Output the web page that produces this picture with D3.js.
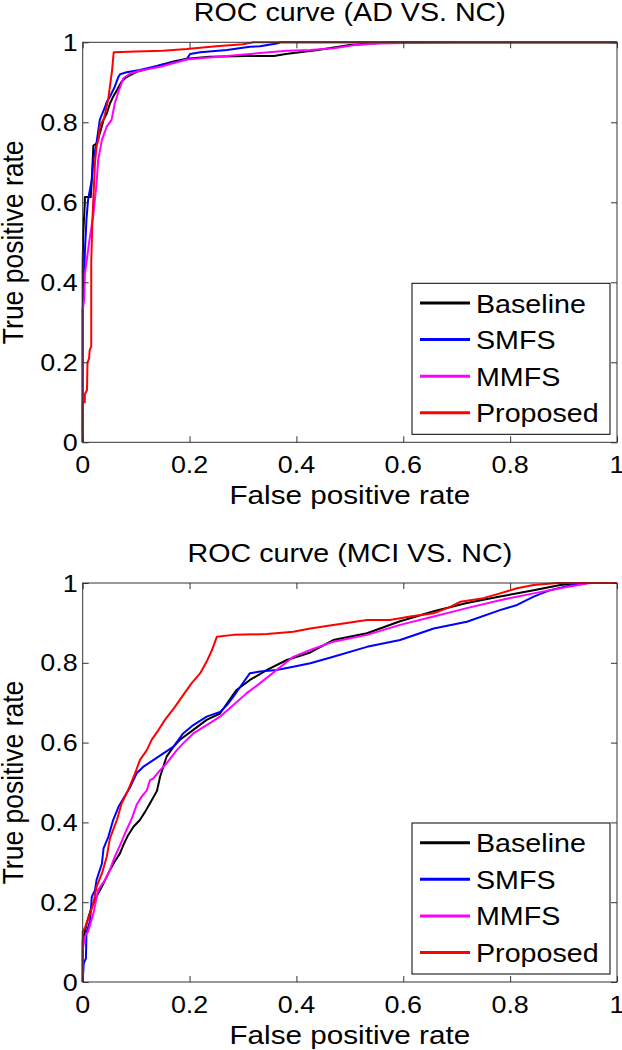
<!DOCTYPE html>
<html>
<head>
<meta charset="utf-8">
<script src="https://cdn.jsdelivr.net/npm/d3@7"></script>
<style>
  html, body { margin: 0; padding: 0; background: #fff; }
  svg { display: block; }
  text { font-family: "Liberation Sans", Arial, sans-serif; fill: #000; }
</style>
</head>
<body>
<svg id="chart" width="622" height="1050"></svg>
<script>
// ---------- data ----------
const seriesNames = ["Baseline", "SMFS", "MMFS", "Proposed"];
const seriesColors = ["#000000", "#0000ff", "#ff00ff", "#ff0000"];
const tickValues = [0, 0.2, 0.4, 0.6, 0.8, 1];
const tickLabels = ["0", "0.2", "0.4", "0.6", "0.8", "1"];
const chartTitles = ["ROC curve (AD VS. NC)", "ROC curve (MCI VS. NC)"];
const xAxisLabel = "False positive rate";
const yAxisLabel = "True positive rate";

// AD vs NC  [false positive rate, true positive rate]
const adBaseline = [[0,0],[0,0.45],[0.001,0.52],[0.004,0.60],[0.004,0.613],[0.015,0.613],[0.017,0.656],[0.02,0.742],[0.026,0.747],[0.032,0.772],[0.039,0.806],[0.045,0.822],[0.051,0.847],[0.057,0.864],[0.064,0.88],[0.073,0.902],[0.082,0.913],[0.101,0.926],[0.12,0.933],[0.145,0.943],[0.17,0.952],[0.195,0.959],[0.238,0.964],[0.307,0.966],[0.358,0.966],[0.38,0.971],[0.44,0.981],[0.47,0.987],[0.50,0.993],[0.58,1],[1,1]];
const adSMFS = [[0,0],[0,0.33],[0.002,0.38],[0.003,0.43],[0.004,0.473],[0.007,0.556],[0.01,0.606],[0.017,0.656],[0.02,0.706],[0.026,0.75],[0.032,0.806],[0.042,0.839],[0.045,0.851],[0.051,0.864],[0.06,0.889],[0.067,0.914],[0.07,0.92],[0.082,0.925],[0.107,0.931],[0.145,0.943],[0.176,0.951],[0.195,0.958],[0.201,0.971],[0.22,0.975],[0.27,0.981],[0.313,0.989],[0.332,0.99],[0.363,0.997],[0.37,1],[1,1]];
const adMMFS = [[0,0],[0,0.33],[0.003,0.36],[0.004,0.42],[0.008,0.46],[0.012,0.50],[0.02,0.57],[0.026,0.648],[0.029,0.706],[0.036,0.756],[0.045,0.789],[0.054,0.806],[0.06,0.847],[0.067,0.877],[0.076,0.91],[0.089,0.922],[0.107,0.929],[0.145,0.939],[0.195,0.957],[0.22,0.96],[0.27,0.966],[0.332,0.973],[0.382,0.979],[0.426,0.981],[0.47,0.985],[0.51,0.993],[0.55,0.997],[0.69,1],[1,1]];
const adProposed = [[0,0],[0,0.1],[0.004,0.1],[0.004,0.12],[0.008,0.13],[0.009,0.2],[0.012,0.21],[0.013,0.23],[0.016,0.24],[0.016,0.45],[0.018,0.55],[0.02,0.61],[0.023,0.70],[0.026,0.74],[0.03,0.76],[0.032,0.79],[0.04,0.81],[0.045,0.84],[0.048,0.86],[0.051,0.89],[0.055,0.93],[0.058,0.975],[0.1,0.977],[0.15,0.979],[0.195,0.983],[0.25,0.99],[0.3,0.995],[0.32,1],[1,1]];

// MCI vs NC
const mciBaseline = [[0,0],[0,0.105],[0.002,0.114],[0.008,0.15],[0.017,0.189],[0.026,0.214],[0.036,0.239],[0.045,0.264],[0.051,0.281],[0.06,0.302],[0.07,0.323],[0.076,0.343],[0.085,0.368],[0.095,0.389],[0.107,0.406],[0.117,0.427],[0.126,0.448],[0.139,0.479],[0.145,0.515],[0.157,0.565],[0.17,0.59],[0.182,0.607],[0.207,0.632],[0.232,0.657],[0.257,0.673],[0.27,0.698],[0.288,0.732],[0.313,0.757],[0.345,0.782],[0.382,0.807],[0.426,0.826],[0.469,0.857],[0.532,0.874],[0.594,0.904],[0.657,0.929],[0.719,0.95],[0.781,0.966],[0.844,0.982],[0.894,0.995],[0.925,1],[1,1]];
const mciSMFS = [[0,0],[0.002,0.047],[0.006,0.059],[0.007,0.122],[0.014,0.155],[0.017,0.214],[0.023,0.23],[0.026,0.256],[0.036,0.297],[0.039,0.335],[0.048,0.364],[0.057,0.406],[0.067,0.439],[0.082,0.473],[0.089,0.489],[0.101,0.523],[0.113,0.539],[0.132,0.556],[0.151,0.573],[0.17,0.59],[0.188,0.623],[0.207,0.644],[0.232,0.665],[0.257,0.677],[0.27,0.694],[0.282,0.715],[0.295,0.74],[0.313,0.774],[0.332,0.778],[0.363,0.782],[0.394,0.79],[0.426,0.799],[0.469,0.815],[0.532,0.84],[0.594,0.857],[0.657,0.886],[0.719,0.903],[0.781,0.932],[0.813,0.945],[0.844,0.966],[0.875,0.982],[0.906,0.992],[0.937,1],[1,1]];
const mciMMFS = [[0,0],[0,0.08],[0.004,0.114],[0.01,0.126],[0.02,0.172],[0.029,0.231],[0.042,0.256],[0.051,0.281],[0.06,0.314],[0.07,0.343],[0.082,0.381],[0.092,0.41],[0.101,0.444],[0.11,0.464],[0.12,0.48],[0.126,0.506],[0.132,0.51],[0.145,0.531],[0.157,0.548],[0.176,0.581],[0.188,0.598],[0.207,0.623],[0.232,0.644],[0.257,0.665],[0.282,0.694],[0.307,0.724],[0.332,0.749],[0.363,0.782],[0.394,0.815],[0.426,0.832],[0.469,0.853],[0.532,0.87],[0.594,0.895],[0.657,0.916],[0.719,0.937],[0.781,0.957],[0.844,0.974],[0.906,0.99],[0.95,1],[1,1]];
const mciProposed = [[0,0],[0,0.126],[0.004,0.135],[0.014,0.172],[0.02,0.197],[0.026,0.239],[0.036,0.272],[0.045,0.314],[0.051,0.36],[0.064,0.406],[0.073,0.448],[0.085,0.481],[0.098,0.523],[0.107,0.556],[0.12,0.581],[0.129,0.607],[0.142,0.632],[0.154,0.657],[0.173,0.69],[0.188,0.719],[0.204,0.749],[0.22,0.774],[0.232,0.803],[0.242,0.832],[0.251,0.865],[0.282,0.87],[0.345,0.872],[0.394,0.878],[0.426,0.886],[0.469,0.895],[0.532,0.907],[0.575,0.907],[0.613,0.916],[0.657,0.924],[0.688,0.94],[0.707,0.953],[0.75,0.962],[0.781,0.974],[0.813,0.987],[0.844,0.995],[0.888,1],[1,1]];

const chartSeries = [
  [adBaseline, adSMFS, adMMFS, adProposed],
  [mciBaseline, mciSMFS, mciMMFS, mciProposed]
];

// ---------- layout ----------
const svg = d3.select("#chart");
svg.append("rect").attr("width", 622).attr("height", 1050).attr("fill", "#fff");

const SX = 1.12;           // horizontal text stretch of the original
const plotLeft = 82.7, plotRight = 617;
const plotTops = [42.3, 583], plotBottoms = [442.3, 982];

function stretchedText(g, x, y, str, size, anchor, rotate) {
  const t = g.append("text")
    .attr("transform", `translate(${x},${y}) scale(${SX},1)` + (rotate ? " rotate(-90)" : ""))
    .attr("font-size", size)
    .attr("text-anchor", anchor)
    .text(str);
  return t;
}

chartSeries.forEach((seriesList, ci) => {
  const top = plotTops[ci], bottom = plotBottoms[ci];
  const x = d3.scaleLinear().domain([0, 1]).range([plotLeft, plotRight]);
  const y = d3.scaleLinear().domain([0, 1]).range([bottom, top]);
  const g = svg.append("g");

  // curves
  const line = d3.line().x(d => x(d[0])).y(d => y(d[1]));
  seriesList.forEach((data, si) => {
    g.append("path").datum(data)
      .attr("d", line)
      .attr("fill", "none")
      .attr("stroke", seriesColors[si])
      .attr("stroke-width", 2)
      .attr("stroke-linejoin", "round");
  });

  // axes (inward ticks on all four sides)
  const tl = 6;
  const axB = d3.axisBottom(x).tickValues(tickValues).tickSize(-tl).tickFormat("");
  const axT = d3.axisTop(x).tickValues(tickValues).tickSize(-tl).tickFormat("");
  const axL = d3.axisLeft(y).tickValues(tickValues).tickSize(-tl).tickFormat("");
  const axR = d3.axisRight(y).tickValues(tickValues).tickSize(-tl).tickFormat("");
  [[axB, `translate(0,${bottom})`], [axT, `translate(0,${top})`],
   [axL, `translate(${plotLeft},0)`], [axR, `translate(${plotRight},0)`]].forEach(([ax, tr]) => {
    const a = g.append("g").attr("transform", tr).call(ax);
    a.select(".domain").remove();
    a.selectAll("line").attr("stroke", "#333").attr("stroke-width", 1);
  });
  g.append("rect")
    .attr("x", plotLeft).attr("y", top)
    .attr("width", plotRight - plotLeft).attr("height", bottom - top)
    .attr("fill", "none").attr("stroke", "#333").attr("stroke-width", 1);

  // tick labels
  tickValues.forEach((v, i) => {
    stretchedText(g, x(v), bottom + 31, tickLabels[i], 24, "middle");
    stretchedText(g, plotLeft - 5, y(v) + 8.6, tickLabels[i], 24, "end");
  });

  // axis labels & title
  stretchedText(g, (plotLeft + plotRight) / 2, bottom + 62, xAxisLabel, 26.5, "middle");
  stretchedText(g, 23, (top + bottom) / 2, yAxisLabel, 26.5, "middle", true);
  stretchedText(g, (plotLeft + plotRight) / 2, top - 21, chartTitles[ci], 25.6, "middle");

  // legend
  const lw = 198, lh = 151;
  const lx = plotRight - 7 - lw, ly = bottom - 8 - lh;
  const lg = g.append("g");
  lg.append("rect").attr("x", lx).attr("y", ly).attr("width", lw).attr("height", lh)
    .attr("fill", "#fff").attr("stroke", "#000").attr("stroke-width", 1);
  seriesNames.forEach((name, si) => {
    const rowY = ly + 19.7 + si * 36.6;
    lg.append("line").attr("x1", lx + 8).attr("x2", lx + 58)
      .attr("y1", rowY).attr("y2", rowY)
      .attr("stroke", seriesColors[si]).attr("stroke-width", 3);
    stretchedText(lg, lx + 64, rowY + 9.5, name, 25.6, "start");
  });
});
</script>
</body>
</html>
